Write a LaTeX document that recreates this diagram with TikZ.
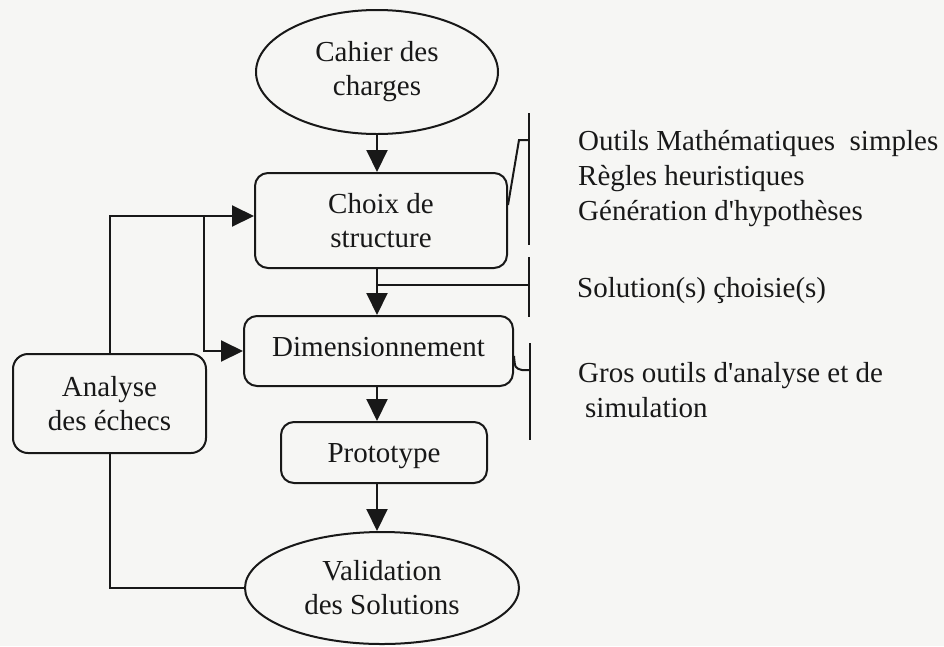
\documentclass[tikz,border=0pt]{standalone}
\usepackage{fontspec}
\setmainfont{Liberation Serif}
\usetikzlibrary{arrows.meta,shapes.geometric,calc}
\definecolor{paper}{RGB}{246,246,244}
\definecolor{ink}{RGB}{24,24,24}
\begin{document}
\begin{tikzpicture}[x=1pt,y=-1pt,
  every node/.style={font=\fontsize{29}{34}\selectfont, text=ink, inner sep=0pt},
  stepbox/.style={draw=ink, line width=2pt, rounded corners=13pt, align=center},
  oval/.style={draw=ink, line width=2pt, ellipse, align=center},
  link/.style={draw=ink, line width=2pt},
  arr/.style={link, -{Triangle[length=22pt,width=21pt]}},
  note/.style={anchor=base west}]

% page
\fill[paper] (0,0) rectangle (944,646);
\useasboundingbox (0,0) rectangle (944,646);

% main flow axis
\coordinate (ax) at (377,0);

% steps
\node[oval, minimum width=242pt, minimum height=124pt] (cahier) at (377,72) {Cahier des\\charges};
\node[stepbox, minimum width=252pt, minimum height=95pt] (choix) at (381,220.5) {Choix de\\structure};
\node[stepbox, minimum width=269pt, minimum height=70pt, text depth=8pt] (dim) at (378.5,351) {Dimensionnement};
\node[stepbox, minimum width=206pt, minimum height=61pt, text depth=0pt] (proto) at (384,452.5) {Prototype};
\node[oval, minimum width=274pt, minimum height=112pt] (valid) at (382,588) {Validation\\des Solutions};
\node[stepbox, minimum width=193pt, minimum height=99pt, rounded corners=15pt] (analyse) at (109.5,403.5) {Analyse\\des échecs};

% downward flow
\draw[arr] (ax |- cahier.south) -- (ax |- choix.north);
\draw[arr] (ax |- choix.south) -- (ax |- dim.north);
\draw[arr] (ax |- dim.south) -- (ax |- proto.north);
\draw[arr] (ax |- proto.south) -- (ax |- valid.north);

% feedback loop through the failure analysis
\coordinate (fork) at (204,216);
\draw[link] (analyse.south) |- (valid.west);
\draw[arr] (analyse.north) |- (fork -| choix.west);
\draw[arr] (fork) |- (dim.west);

% brackets linking steps to their tools
\coordinate (b1top) at (529,113);
\coordinate (b1bot) at (529,245);
\coordinate (k1) at (519,140);
\draw[link] (b1top) -- (b1bot);
\draw[link] ($(choix.east)+(0,-15.5)$) -- (k1) -- (b1top |- k1);

\coordinate (b2top) at (529,257);
\coordinate (b2bot) at (529,317);
\coordinate (k2) at (529,285);
\draw[link] (b2top) -- (b2bot);
\draw[link] (ax |- k2) -- (k2);

\coordinate (b3top) at (530,343);
\coordinate (b3bot) at (530,440);
\coordinate (k3) at (522,370);
\draw[link] (b3top) -- (b3bot);
\draw[link] ($(dim.east)+(0,5)$) .. controls (515,368) .. (k3) -- (b3top |- k3);

% tool notes
\node[note] (t1) at (578,150) {Outils Mathématiques\ \ simples};
\node[note] (t2) at (578,185) {Règles heuristiques};
\node[note] (t3) at (578,220) {Génération d\textquotesingle hypothèses};
\node[note] (t4) at (577,297) {Solution(s) çhoisie(s)};
\node[note] (t5) at (578,382) {Gros outils d\textquotesingle analyse et de};
\node[note] (t6) at (585,417) {simulation};
\end{tikzpicture}
\end{document}
